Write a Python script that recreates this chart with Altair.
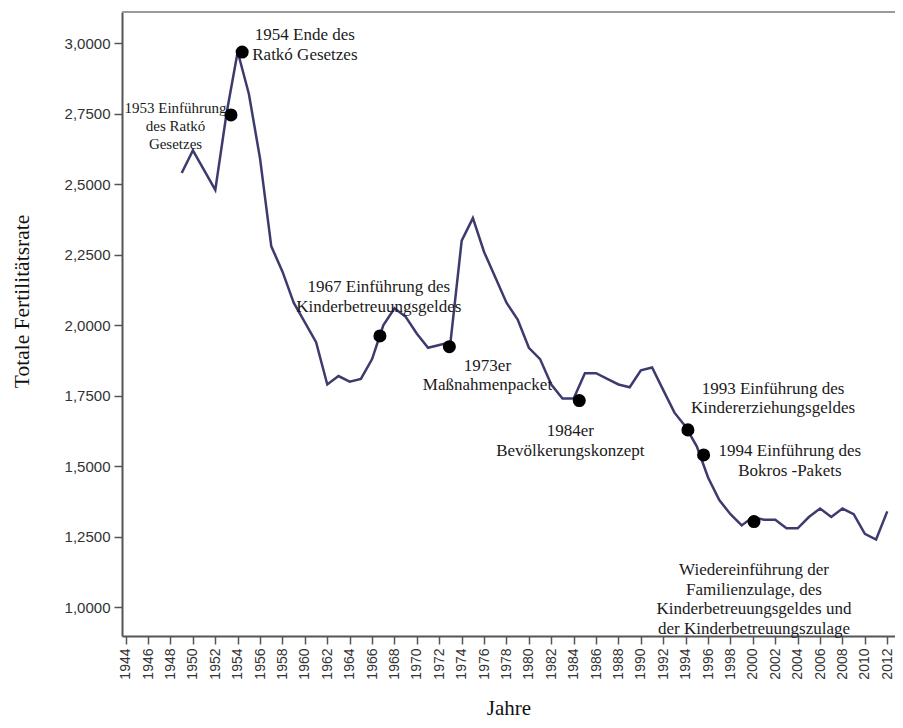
import altair as alt
import pandas as pd

# Total fertility rate (Hungary)
years = list(range(1949, 2013))
tfr = [2.54, 2.62, 2.55, 2.48, 2.75, 2.97, 2.82, 2.59, 2.28, 2.19,
       2.08, 2.01, 1.94, 1.79, 1.82, 1.80, 1.81, 1.88, 2.00, 2.06,
       2.03, 1.97, 1.92, 1.93, 1.94, 2.30, 2.38, 2.26, 2.17, 2.08,
       2.02, 1.92, 1.88, 1.79, 1.74, 1.74, 1.83, 1.83, 1.81, 1.79,
       1.78, 1.84, 1.85, 1.77, 1.69, 1.64, 1.57, 1.46, 1.38, 1.33,
       1.29, 1.32, 1.31, 1.31, 1.28, 1.28, 1.32, 1.35, 1.32, 1.35,
       1.33, 1.26, 1.24, 1.34]

# Event markers
event_year = [1953.4, 1954.4, 1966.7, 1972.9, 1984.5, 1994.2, 1995.6, 2000.1]
event_value = [2.746, 2.969, 1.962, 1.924, 1.733, 1.629, 1.540, 1.304]

# Annotation texts and anchors (block centres, in data units)
small_text = ["1953 Einführung\ndes Ratkó\nGesetzes"]
small_year = [1948.45]
small_value = [2.771]

ann_text = [
    "1954 Ende des\nRatkó Gesetzes",
    "1967 Einführung des\nKinderbetreuungsgeldes",
    "1973er\nMaßnahmenpacket",
    "1984er\nBevölkerungskonzept",
    "1993 Einführung des\nKindererziehungsgeldes",
    "1994 Einführung des\nBokros -Pakets",
    "Wiedereinführung der\nFamilienzulage, des\nKinderbetreuungsgeldes und\nder Kinderbetreuungszulage",
]
ann_year = [1960.0, 1966.6, 1976.3, 1983.7, 2001.8, 2003.3, 2000.1]
ann_value = [3.029, 2.134, 1.856, 1.625, 1.774, 1.554, 1.131]

x_ticks = list(range(1944, 2013, 2))
y_ticks = [1.0, 1.25, 1.5, 1.75, 2.0, 2.25, 2.5, 2.75, 3.0]

W, H = 773, 624
X_DOMAIN = [1943.67, 2012.69]
Y_DOMAIN = [0.898, 3.111]

line_df = pd.DataFrame({"Jahr": years, "TFR": tfr})
ev_df = pd.DataFrame({"Jahr": event_year, "TFR": event_value})
small_df = pd.DataFrame({"t": small_text, "Jahr": small_year, "TFR": small_value})
ann_df = pd.DataFrame({"t": ann_text, "Jahr": ann_year, "TFR": ann_value})

xs = alt.Scale(domain=X_DOMAIN, nice=False, zero=False)
ys = alt.Scale(domain=Y_DOMAIN, nice=False, zero=False)

x_axis = alt.Axis(
    values=x_ticks, format="d", labelAngle=270, title="Jahre", labelOverlap=False,
    labelBound=False, labelFlush=False,
    grid=False, labelFont="Liberation Sans", labelFontSize=14, labelColor="#333",
    domainColor="#555", domainWidth=2, tickColor="#555", tickWidth=1.5, tickSize=8,
    labelPadding=4, titleFont="Liberation Serif", titleFontSize=21,
    titleFontWeight="normal", titleColor="#111", titleY=72, titleBaseline="middle",
)
y_axis = alt.Axis(
    values=y_ticks, labelExpr="replace(format(datum.value, '.4f'), '.', ',')",
    title="Totale Fertilitätsrate", grid=False, labelOverlap=False,
    labelFont="Liberation Sans", labelFontSize=15, labelColor="#333",
    domainColor="#555", domainWidth=2, tickColor="#555", tickWidth=1.5, tickSize=8,
    labelPadding=4, titleFont="Liberation Serif", titleFontSize=21.5,
    titleFontWeight="normal", titleColor="#111", titleX=-100, titleY=289,
    titleAngle=270, titleAlign="center", titleBaseline="middle",
)

X = alt.X("Jahr:Q", scale=xs, axis=x_axis)
Y = alt.Y("TFR:Q", scale=ys, axis=y_axis)

line = alt.Chart(line_df).mark_line(color="#3d3b6d", strokeWidth=2.5).encode(x=X, y=Y)
dots = alt.Chart(ev_df).mark_circle(color="black", opacity=1, size=170).encode(x=X, y=Y)
top_rule = alt.Chart(line_df).mark_rule(color="#9a9a9a", strokeWidth=2).encode(
    x=alt.value(0), x2=alt.value(W + 20), y=alt.value(0)
)
small_lbl = alt.Chart(small_df).mark_text(
    font="Liberation Serif", fontSize=15, lineHeight=18, lineBreak="\n",
    align="center", baseline="middle", color="#1a1a1a"
).encode(x=X, y=Y, text="t:N")
ann_lbl = alt.Chart(ann_df).mark_text(
    font="Liberation Serif", fontSize=17, lineHeight=19.5, lineBreak="\n",
    align="center", baseline="middle", color="#1a1a1a"
).encode(x=X, y=Y, text="t:N")

chart = alt.layer(top_rule, line, dots, small_lbl, ann_lbl).properties(
    width=W, height=H,
    autosize=alt.AutoSizeParams(type="none"),
    padding={"left": 114, "top": 4, "right": 0, "bottom": 84},
    background="white",
).configure_view(stroke=None).configure_axis(labelOverlap=False)

chart.save("out.html", embed_options={"renderer": "svg", "actions": False})
